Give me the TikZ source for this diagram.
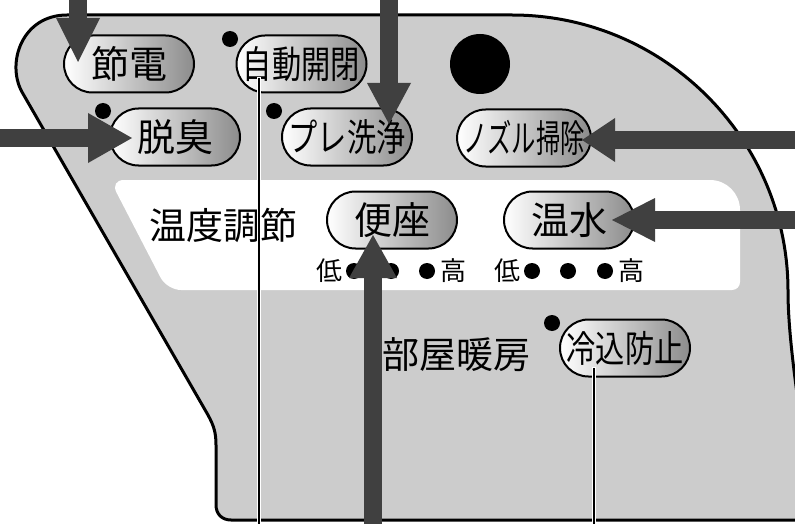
\documentclass[tikz,border=0pt]{standalone}
\usepackage{fontspec}
\newfontfamily\jp{Noto Sans CJK JP}
\usetikzlibrary{shapes.misc,arrows.meta}
\definecolor{panelgray}{HTML}{CCCCCC}
\definecolor{arrowgray}{HTML}{404040}
\begin{document}
\begin{tikzpicture}[x=1pt,y=-1pt,
  btn/.style={rounded rectangle, draw=black, line width=2pt,
    minimum width=130pt, minimum height=57pt, inner sep=0pt,
    left color=white, right color=black!45,
    font=\jp\fontsize{38}{40}\selectfont},
  lbl/.style={inner sep=0pt, font=\jp\fontsize{37}{40}\selectfont},
  small/.style={inner sep=0pt, font=\jp\fontsize{26}{28}\selectfont},
  dot/.style={circle, fill=black, inner sep=0pt, minimum size=16pt},
  bigarrow/.style={draw=arrowgray, line width=18pt},
  leader/.style={black, line width=1.8pt,
    preaction={draw=white, line width=4.5pt, shorten <=-1pt}}
]
\useasboundingbox (0,0) rectangle (795,524);
\clip (0,0) rectangle (795,524);

% panel
\draw[fill=panelgray, line width=3pt, line join=round]
  (67,15) -- (512,15) .. controls (664,15) and (788,139) .. (788,291)
  .. controls (788,330) and (795,380) .. (802,430) -- (806,520)
  -- (231,520) .. controls (222,520) and (216,514) .. (216,505)
  -- (216,445) .. controls (216,433) and (214,426) .. (208,415)
  -- (22,92) .. controls (6,63) and (22,15) .. (67,15) -- cycle;

% white inner area
\fill[white, rounded corners=14pt] (400,290) -- (167,290) -- (110,180)
  [rounded corners=30pt] -- (740,180) [rounded corners=8pt] -- (740,290) -- cycle;

% buttons
\node[btn] (jd)  at (129,64)  {節電};
\node[btn] (aj)  at (301.5,64) {\scalebox{0.77}[1]{自動開閉}};
\node[btn] (ds)  at (175,137) {脱臭};
\node[btn] (pre) at (347,137) {\scalebox{0.77}[1]{プレ洗浄}};
\node[btn] (noz) at (524,138) {\scalebox{0.64}[1]{ノズル掃除}};
\node[btn] (bz)  at (392,220) {便座};
\node[btn] (on)  at (569,220) {温水};
\node[btn, font=\jp\fontsize{37}{40}\selectfont] (rk) at (625,348) {\scalebox{0.79}[1]{冷込防止}};

% labels
\node[lbl] (ondo) at (223,225) {温度調節};
\node[lbl] (heya) at (456,355) {部屋暖房};

% level indicators
\node[small] (bzlo) at (329,271) {低};
\node[dot] (bz1) at (354,271) {};
\node[dot] (bz2) at (391,271) {};
\node[dot] (bz3) at (427,271) {};
\node[small] (bzhi) at (453,271) {高};
\node[small] (onlo) at (507,271) {低};
\node[dot] (on1) at (532,271) {};
\node[dot] (on2) at (568,271) {};
\node[dot] (on3) at (605,271) {};
\node[small] (onhi) at (631,271) {高};

% marker dots
\node[dot] (ajdot)  at (230,39)  {};
\node[dot] (dsdot)  at (103,111) {};
\node[dot] (predot) at (274,111) {};
\node[dot] (rkdot)  at (552,323) {};
\node[circle, fill=black, inner sep=0pt, minimum size=60pt] (sensor) at (480,64) {};

% leader lines
\coordinate (ajl) at (259,78);
\coordinate (ajf) at (259,540);
\coordinate (rkl) at (594,368);
\coordinate (rkf) at (594,540);
\draw[leader] (ajl) -- (ajf);
\draw[leader] (rkl) -- (rkf);

% big arrows
\coordinate (a1s) at (78,-20);   \coordinate (a1t) at (78,62);
\coordinate (a2s) at (389,-20);  \coordinate (a2t) at (389,124);
\coordinate (a3s) at (-20,138);  \coordinate (a3t) at (132,138);
\coordinate (a4s) at (820,140);  \coordinate (a4t) at (582,140);
\coordinate (a5s) at (820,220);  \coordinate (a5t) at (612,220);
\coordinate (a6s) at (373,545);  \coordinate (a6t) at (373,235);
\draw[bigarrow, -{Triangle[length=44pt,width=44pt,line width=0pt]}] (a1s) -- (a1t);
\draw[bigarrow, -{Triangle[length=41pt,width=44pt,line width=0pt]}] (a2s) -- (a2t);
\draw[bigarrow, -{Triangle[length=44pt,width=50pt,line width=0pt]}] (a3s) -- (a3t);
\draw[bigarrow, -{Triangle[length=33pt,width=44pt,line width=0pt]}] (a4s) -- (a4t);
\draw[bigarrow, -{Triangle[length=43pt,width=44pt,line width=0pt]}] (a5s) -- (a5t);
\draw[bigarrow, -{Triangle[length=43pt,width=48pt,line width=0pt]}] (a6s) -- (a6t);
\end{tikzpicture}
\end{document}
